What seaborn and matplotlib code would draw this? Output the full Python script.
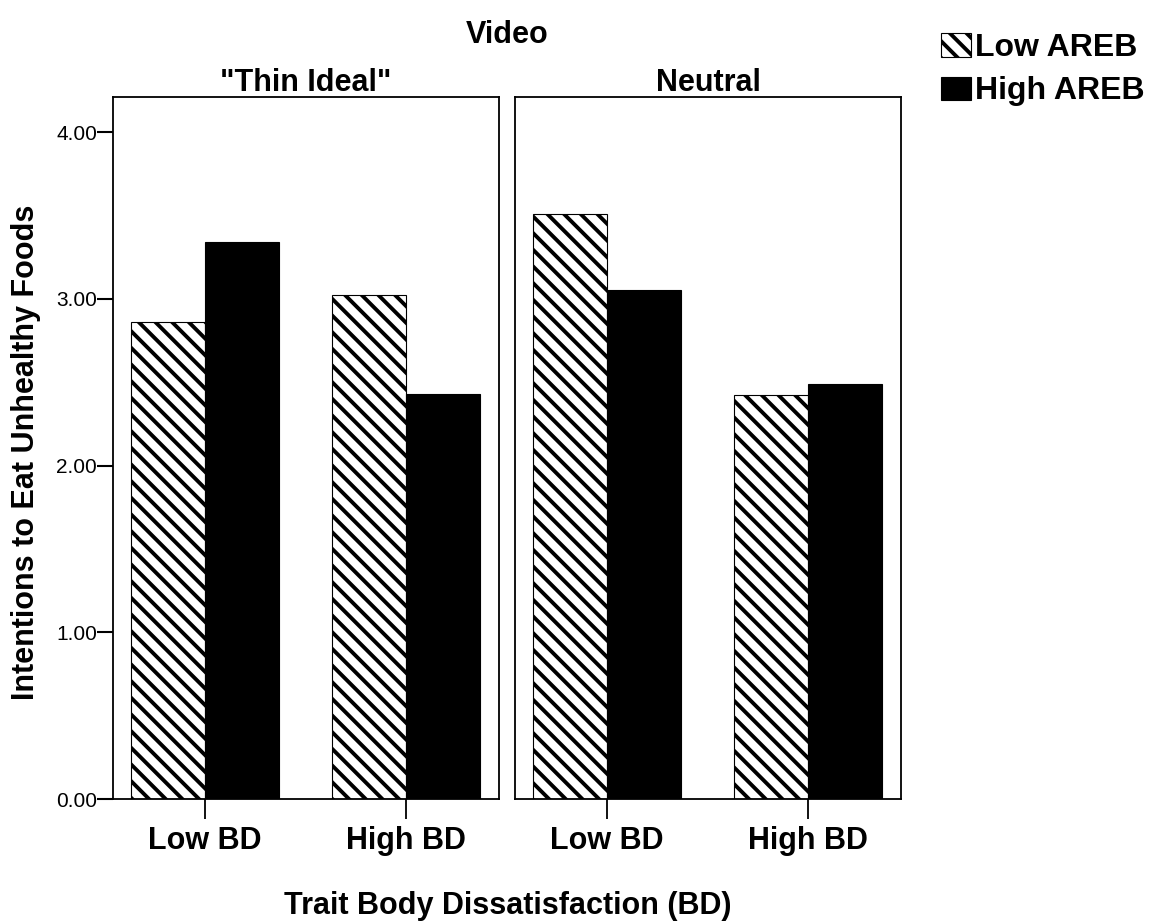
import matplotlib
matplotlib.use("Agg")
import matplotlib.pyplot as plt
import seaborn as sns
import pandas as pd
from matplotlib.patches import Patch

# ---- data ----
videos = ['"Thin Ideal"', 'Neutral']
bd_levels = ['Low BD', 'High BD']
areb_levels = ['Low AREB', 'High AREB']
thin_low_areb = [2.86, 3.02]
thin_high_areb = [3.34, 2.43]
neutral_low_areb = [3.51, 2.42]
neutral_high_areb = [3.05, 2.49]
y_ticks = [0, 1, 2, 3, 4]

rows = []
for vid, lo, hi in [(videos[0], thin_low_areb, thin_high_areb),
                    (videos[1], neutral_low_areb, neutral_high_areb)]:
    for i, bd in enumerate(bd_levels):
        rows.append(dict(Video=vid, BD=bd, AREB=areb_levels[0], Value=lo[i]))
        rows.append(dict(Video=vid, BD=bd, AREB=areb_levels[1], Value=hi[i]))
df = pd.DataFrame(rows)

sns.set_theme(style="white")
plt.rcParams['font.family'] = ['Liberation Sans', 'DejaVu Sans']
plt.rcParams['hatch.linewidth'] = 2.8
for k in ['text.color', 'axes.labelcolor', 'xtick.color', 'ytick.color']:
    plt.rcParams[k] = 'black'

W, H = 1149, 922
fig = plt.figure(figsize=(W / 100, H / 100), dpi=100)

def fx(px):
    return px / W

def fy(py):
    return 1 - py / H

ax_bottom = fy(799)
ax_h = fy(97) - fy(799)
ax1 = fig.add_axes([fx(113), ax_bottom, fx(499) - fx(113), ax_h])
ax2 = fig.add_axes([fx(515), ax_bottom, fx(901) - fx(515), ax_h])

palette = {areb_levels[0]: 'white', areb_levels[1]: 'black'}
ymax = (799 - 97) / 166.75
HATCH = '\\\\'

for ax, vid in zip([ax1, ax2], videos):
    sub = df[df['Video'] == vid]
    sns.barplot(data=sub, x='BD', y='Value', hue='AREB', order=bd_levels,
                hue_order=areb_levels, palette=palette, width=0.74,
                edgecolor='black', linewidth=0.8, errorbar=None,
                legend=False, ax=ax)
    for bar in ax.containers[0]:
        bar.set_hatch(HATCH)
        bar.set_facecolor('white')
        bar.set_edgecolor('black')
    ax.set_xlim(-0.458, 1.463)
    ax.set_ylim(0, ymax)
    ax.set_xlabel('')
    ax.set_ylabel('')
    ax.set_title(vid, fontsize=22, fontweight='bold', pad=4, color='black')
    for s in ax.spines.values():
        s.set_visible(True)
        s.set_color('black')
        s.set_linewidth(1.3)
    ax.tick_params(axis='x', bottom=True, direction='out', length=14.4,
                   width=1.3, color='black', pad=5, labelsize=22,
                   labelcolor='black')
    for t in ax.get_xticklabels():
        t.set_fontweight('bold')

ax1.set_yticks(y_ticks)
ax1.set_yticklabels([f"{v:.2f}" for v in y_ticks])
ax1.tick_params(axis='y', left=True, direction='out', length=11.5,
                width=1.5, color='black', pad=0, labelsize=15,
                labelcolor='black')
ax2.set_yticks(y_ticks)
ax2.tick_params(axis='y', left=False, labelleft=False)

fig.text(fx(507), fy(35), 'Video', ha='center', va='center',
         fontsize=22, fontweight='bold', color='black')
fig.text(fx(508), fy(914), 'Trait Body Dissatisfaction (BD)', ha='center',
         va='baseline', fontsize=22, fontweight='bold', color='black')
fig.text(fx(26), fy(452), 'Intentions to Eat Unhealthy Foods', ha='center',
         va='center', rotation=90, fontsize=22, fontweight='bold',
         color='black')

handles = [Patch(facecolor='white', edgecolor='black', hatch=HATCH, linewidth=0.8),
           Patch(facecolor='black', edgecolor='black', linewidth=0.8)]
leg = fig.legend(handles, areb_levels, loc='upper left',
                 bbox_to_anchor=(fx(941), fy(33)), frameon=False, borderpad=0,
                 borderaxespad=0,
                 prop={'size': 23, 'weight': 'bold'}, handlelength=0.95,
                 handleheight=0.75, handletextpad=0.12, labelspacing=0.42)
for t in leg.get_texts():
    t.set_color('black')

fig.savefig('out.png', dpi=100)
